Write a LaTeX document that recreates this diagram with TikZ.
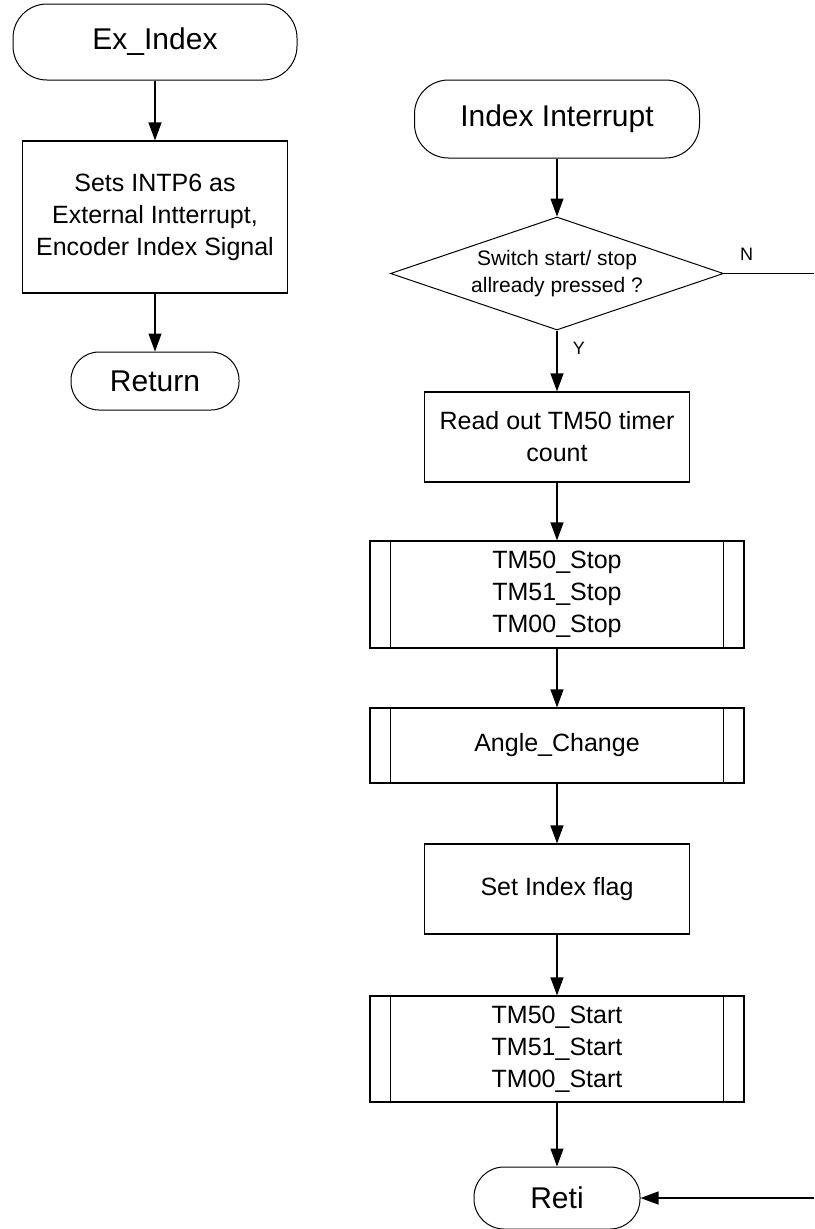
\documentclass[tikz,border=0pt]{standalone}
\usepackage{fontspec}
\setmainfont{Liberation Sans}
\usetikzlibrary{arrows.meta,shapes.geometric}

\tikzset{
	term/.style={draw, line width=1pt, rounded corners=34pt, inner sep=0pt, font=\fontsize{30}{36}\selectfont},
	proc/.style={draw, line width=1.2pt, inner sep=0pt, align=center, font=\fontsize{25}{32}\selectfont},
	sub/.style={proc, minimum width=374pt},
	decide/.style={draw, diamond, aspect=2.95, line width=1pt, inner sep=0pt, minimum width=333pt, minimum height=113pt, align=center, font=\fontsize{21}{27}\selectfont},
	flow/.style={line width=1.2pt, -{Triangle[length=18pt,width=13pt]}},
	yn/.style={font=\fontsize{18}{20}\selectfont}
}

\begin{document}
\begin{tikzpicture}[x=1pt,y=-1pt]
				\useasboundingbox[fill=white] (0,0) rectangle (814,1229);
				%\draw[very thin,color=gray] (0,0) grid[step=50] (814,1229);
				
				% left: Ex_Index
				\node[term, minimum width=284pt, minimum height=76pt] (exidx) at (155,42) {Ex\_Index};
				\node[proc, minimum width=265pt, minimum height=152pt] (sets) at (155,217) {Sets INTP6 as\\External Intterrupt,\\Encoder Index Signal};
				\node[term, minimum width=168pt, minimum height=58pt, rounded corners=28pt] (ret) at (155,381) {Return};
				\draw[flow] (exidx) -- (sets);
				\draw[flow] (sets) -- (ret);
				
				% right: Index Interrupt
				\node[term, minimum width=285pt, minimum height=78pt] (intr) at (557,119) {Index Interrupt};
				\node[decide] (sw) at (557,273.5) {Switch start/ stop\\allready pressed ?};
				\node[proc, minimum width=265pt, minimum height=90pt] (readout) at (557,437) {Read out TM50 timer\\count};
				\node[sub, minimum height=107pt] (stop) at (557,594.5) {TM50\_Stop\\TM51\_Stop\\TM00\_Stop};
				\node[sub, minimum height=75pt] (angle) at (557,745.5) {Angle\_Change};
				\node[proc, minimum width=265pt, minimum height=90pt] (flag) at (557,889) {Set Index flag};
				\node[sub, minimum height=106pt] (start) at (557,1049) {TM50\_Start\\TM51\_Start\\TM00\_Start};
				\node[term, minimum width=166pt, minimum height=62pt, rounded corners=30pt] (reti) at (557,1198) {Reti};
				
				% double side lines of the subroutine boxes
				\foreach \n in {stop,angle,start} {
					\draw[line width=1.2pt] ([xshift=21pt]\n.north west) -- ([xshift=21pt]\n.south west);
					\draw[line width=1.2pt] ([xshift=-21pt]\n.north east) -- ([xshift=-21pt]\n.south east);
				}
				
				\draw[flow] (intr) -- (sw);
				\draw[flow] (sw) -- (readout) node[yn, pos=0.3, right=12pt] {Y};
				\draw[flow] (readout) -- (stop);
				\draw[flow] (stop) -- (angle);
				\draw[flow] (angle) -- (flag);
				\draw[flow] (flag) -- (start);
				\draw[flow] (start) -- (reti);
				
				% N branch leaves the page and comes back into Reti
				\coordinate (nout) at (814,273.5);
				\coordinate (nin) at (814,1198);
				\draw[line width=1.2pt] (sw.east) -- (nout) node[yn, pos=0.25, above=9pt] {N};
				\draw[flow] (nin) -- (reti.east);
			\end{tikzpicture}
\end{document}
